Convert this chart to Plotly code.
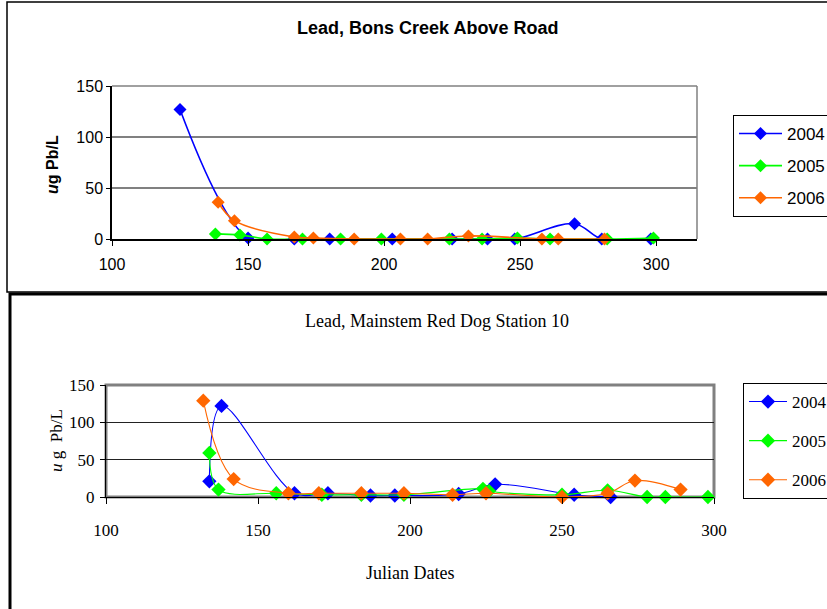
import plotly.graph_objects as go

W, H = 827, 609

# Bons Creek Above Road (top chart)
bons_x_2004 = [125, 150, 167, 180, 203, 225, 238, 248, 270, 280, 298]
bons_y_2004 = [127, 1, 0, 0, 0, 0, 0, 0, 15, 0, 0]
bons_x_2005 = [138, 147, 157, 170, 184, 199, 224, 236, 249, 261, 282, 299]
bons_y_2005 = [5, 4, 0, 0, 0, 0, 0, 0, 1, 0, 0, 1]
bons_x_2006 = [139, 145, 167, 174, 189, 206, 216, 231, 258, 264, 281]
bons_y_2006 = [36, 18, 2, 1, 0, 0, 0, 3, 0, 0, 0]

# Mainstem Red Dog Station 10 (bottom chart)
main_x_2004 = [134, 138, 162, 173, 187, 195, 216, 228, 254, 266]
main_y_2004 = [21, 122, 5, 5, 2, 2, 4, 17, 3, 0]
main_x_2005 = [134, 137, 156, 171, 184, 198, 224, 226, 250, 265, 278, 284, 298]
main_y_2005 = [59, 10, 5, 3, 3, 3, 11, 8, 3, 9, 0, 0, 0]
main_x_2006 = [132, 142, 160, 170, 184, 198, 214, 225, 250, 265, 274, 289]
main_y_2006 = [129, 24, 5, 5, 5, 5, 3, 5, 0, 5, 22, 10]

years = ['2004', '2005', '2006']
colors = ['#0000FF', '#00FF00', '#FF6600']
x_ticks = [100, 150, 200, 250, 300]
y_ticks = [0, 50, 100, 150]

top_series = [(bons_x_2004, bons_y_2004), (bons_x_2005, bons_y_2005), (bons_x_2006, bons_y_2006)]
bot_series = [(main_x_2004, main_y_2004), (main_x_2005, main_y_2005), (main_x_2006, main_y_2006)]


def px(x):
    return x / W


def py(y):
    return 1 - y / H


fig = go.Figure()

for i, (xs, ys) in enumerate(top_series):
    fig.add_trace(go.Scatter(x=xs, y=ys, name=years[i], mode='lines+markers',
                             line=dict(color=colors[i], width=1.6, shape='spline'),
                             marker=dict(symbol='diamond', size=10, color=colors[i]),
                             cliponaxis=False, legend='legend', legendgroup='t' + years[i],
                             xaxis='x', yaxis='y'))

for i, (xs, ys) in enumerate(bot_series):
    fig.add_trace(go.Scatter(x=xs, y=ys, name=years[i], mode='lines+markers',
                             line=dict(color=colors[i], width=1.1, shape='spline'),
                             marker=dict(symbol='diamond', size=11, color=colors[i]),
                             cliponaxis=False, legend='legend2', legendgroup='b' + years[i],
                             xaxis='x2', yaxis='y2'))

arial = 'Liberation Sans, Arial, sans-serif'
times = 'Liberation Serif, Times New Roman, serif'

fig.update_layout(
    width=W, height=H,
    margin=dict(l=0, r=0, t=0, b=0, autoexpand=False),
    paper_bgcolor='white', plot_bgcolor='white',
    showlegend=True,
    xaxis=dict(domain=[px(112), px(697)], range=[100, 315], tickvals=x_ticks,
               showgrid=False, zeroline=False, showline=True, linecolor='black', linewidth=1.5,
               ticks='outside', ticklen=5, tickcolor='black', ticklabelstandoff=5,
               tickfont=dict(family=arial, size=16, color='black'), anchor='y'),
    yaxis=dict(domain=[py(239), py(86)], range=[0, 150], tickvals=y_ticks,
               showgrid=True, gridcolor='#808080', gridwidth=1.5, zeroline=False,
               showline=True, linecolor='black', linewidth=1.5,
               ticks='outside', ticklen=4, tickcolor='black',
               tickfont=dict(family=arial, size=16, color='black'), anchor='x'),
    xaxis2=dict(domain=[px(106), px(714)], range=[100, 300], tickvals=x_ticks,
                showgrid=False, zeroline=False, showline=True, linecolor='black', linewidth=1,
                ticks='outside', ticklen=6, tickcolor='black', ticklabelstandoff=12,
                tickfont=dict(family=times, size=17, color='black'), anchor='y2'),
    yaxis2=dict(domain=[py(497), py(385)], range=[0, 150], tickvals=y_ticks,
                showgrid=True, gridcolor='#222222', gridwidth=1, zeroline=False,
                showline=True, linecolor='black', linewidth=1,
                ticks='outside', ticklen=5, tickcolor='black', ticklabelstandoff=2,
                tickfont=dict(family=times, size=17, color='black'), anchor='x2'),
    legend=dict(x=px(733), y=py(115), xanchor='left', yanchor='top',
                bordercolor='black', borderwidth=1, bgcolor='white',
                itemwidth=43, entrywidth=110,
                font=dict(family=arial, size=17, color='black'), tracegroupgap=7),
    legend2=dict(x=px(743), y=py(383), xanchor='left', yanchor='top',
                 bordercolor='black', borderwidth=1, bgcolor='white',
                 itemwidth=38, entrywidth=110,
                 font=dict(family=times, size=17, color='black'), tracegroupgap=14),
)

shapes = [
    # outer chart frames
    dict(type='rect', xref='paper', yref='paper', x0=px(7), x1=px(900), y0=py(292), y1=py(2),
         line=dict(color='black', width=1.5), fillcolor='rgba(0,0,0,0)', layer='above'),
    dict(type='rect', xref='paper', yref='paper', x0=px(10), x1=px(900), y0=py(700), y1=py(294),
         line=dict(color='black', width=3), fillcolor='rgba(0,0,0,0)', layer='above'),
    # top plot area top and right borders
    dict(type='line', xref='x domain', yref='y domain', x0=1, x1=1, y0=0, y1=1,
         line=dict(color='#808080', width=1.5), layer='below'),
    dict(type='line', xref='x domain', yref='y domain', x0=0, x1=1, y0=1, y1=1,
         line=dict(color='#808080', width=1.5), layer='below'),
    # bottom plot area grey frame
    dict(type='rect', xref='x2 domain', yref='y2 domain', x0=0, x1=1, y0=0, y1=1,
         line=dict(color='#808080', width=3), fillcolor='rgba(0,0,0,0)', layer='below'),
]
fig.update_layout(shapes=shapes)

annotations = [
    dict(text='<b>Lead, Bons Creek Above Road</b>', x=px(427), y=py(28)),
    dict(text='<b><i>u</i>g Pb/L</b>', x=px(52), y=py(165), textangle=-90),
    dict(text='Lead, Mainstem Red Dog Station 10', x=px(437), y=py(321)),
    dict(text='<i>u</i> g  Pb/L', x=px(56), y=py(441), textangle=-90),
    dict(text='Julian Dates', x=px(410), y=py(573)),
]
fonts = [dict(family=arial, size=18), dict(family=arial, size=16), dict(family=times, size=18),
         dict(family=times, size=17), dict(family=times, size=18)]
for a, f in zip(annotations, fonts):
    a.update(xref='paper', yref='paper', xanchor='center', yanchor='middle', showarrow=False,
             font=dict(color='black', **f))
fig.update_layout(annotations=annotations)

fig.write_html("out.html", config={'displayModeBar': False},
               post_script="document.body.style.margin='0px';")
